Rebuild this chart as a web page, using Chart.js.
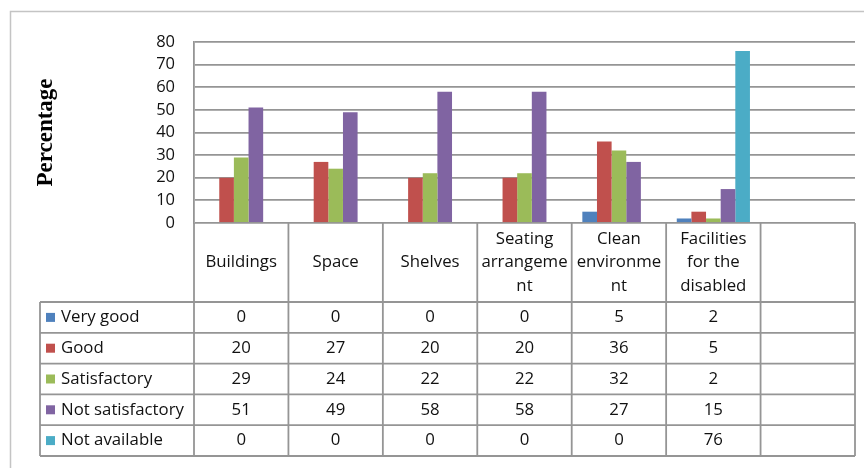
<!DOCTYPE html>
<html>
<head>
<meta charset="utf-8">
<script src="https://cdn.jsdelivr.net/npm/chart.js@4/dist/chart.umd.min.js"></script>
<style>
  html, body { margin: 0; padding: 0; background: #fff; }
  #wrap { position: relative; width: 864px; height: 468px; }
</style>
</head>
<body>
<div id="wrap"><canvas id="c"></canvas></div>
<script>
// ---- data ----
const categories = ["Buildings", "Space", "Shelves", "Seating arrangement", "Clean environment", "Facilities for the disabled", ""];
const headerLines = [["Buildings"], ["Space"], ["Shelves"], ["Seating", "arrangeme", "nt"], ["Clean", "environme", "nt"], ["Facilities", "for the", "disabled"], [""]];
const seriesNames = ["Very good", "Good", "Satisfactory", "Not satisfactory", "Not available"];
const veryGood        = [0, 0, 0, 0, 5, 2, null];
const good            = [20, 27, 20, 20, 36, 5, null];
const satisfactory    = [29, 24, 22, 22, 32, 2, null];
const notSatisfactory = [51, 49, 58, 58, 27, 15, null];
const notAvailable    = [0, 0, 0, 0, 0, 76, null];
const yTicks = [0, 10, 20, 30, 40, 50, 60, 70, 80];
const seriesColors = ["#4F81BD", "#C0504D", "#9BBB59", "#8064A2", "#4BACC6"];
const seriesValues = [veryGood, good, satisfactory, notSatisfactory, notAvailable];

const FONT = "'Open Sans', 'Liberation Sans', sans-serif";
const GRID = "#959595";

const framePlugin = {
  id: 'frame',
  beforeDraw(chart) {
    const ctx = chart.ctx;
    ctx.save();
    ctx.strokeStyle = '#c4c4c4';
    ctx.lineWidth = 1.5;
    ctx.beginPath();
    ctx.moveTo(10.5, 468);
    ctx.lineTo(10.5, 11.5);
    ctx.lineTo(864, 11.5);
    ctx.stroke();
    ctx.restore();
  }
};

const tablePlugin = {
  id: 'dataTable',
  afterDraw(chart) {
    const { ctx, chartArea, scales: { x } } = chart;
    const n = categories.length;
    const step = x.getPixelForValue(1) - x.getPixelForValue(0);
    const bounds = [];
    for (let i = 0; i <= n; i++) bounds.push(x.getPixelForValue(0) - step / 2 + i * step);
    const top = chartArea.bottom;
    const headerBottom = top + 79;
    const rowH = 30.8;
    const legendLeft = 40;
    const tableBottom = headerBottom + rowH * seriesNames.length;

    ctx.save();
    ctx.strokeStyle = GRID;
    ctx.lineWidth = 1.8;
    ctx.beginPath();
    for (const b of bounds) { ctx.moveTo(b, top); ctx.lineTo(b, tableBottom); }
    ctx.moveTo(legendLeft, headerBottom); ctx.lineTo(legendLeft, tableBottom);
    for (let r = 0; r <= seriesNames.length; r++) {
      const y = headerBottom + r * rowH;
      ctx.moveTo(legendLeft, y); ctx.lineTo(bounds[n], y);
    }
    ctx.stroke();

    ctx.fillStyle = '#111';
    ctx.font = '16.8px ' + FONT;
    ctx.textAlign = 'center';
    ctx.textBaseline = 'middle';
    const lh = 23.5;
    const hc = (top + headerBottom) / 2;
    headerLines.forEach((lines, i) => {
      const cx = (bounds[i] + bounds[i + 1]) / 2;
      const y0 = hc - (lines.length - 1) * lh / 2;
      lines.forEach((t, k) => ctx.fillText(t, cx, y0 + k * lh));
    });

    seriesNames.forEach((name, r) => {
      const cy = headerBottom + r * rowH + rowH / 2;
      ctx.fillStyle = seriesColors[r];
      ctx.fillRect(46, cy - 4.5, 9, 9);
      ctx.fillStyle = '#111';
      ctx.textAlign = 'left';
      ctx.fillText(name, 61, cy);
      ctx.textAlign = 'center';
      seriesValues[r].forEach((v, i) => {
        if (v === null) return;
        ctx.fillText(String(v), (bounds[i] + bounds[i + 1]) / 2, cy);
      });
    });
    ctx.restore();
  }
};

new Chart(document.getElementById('c'), {
  type: 'bar',
  data: {
    labels: categories,
    datasets: seriesNames.map((name, i) => ({
      label: name,
      data: seriesValues[i],
      backgroundColor: seriesColors[i],
      borderWidth: 0,
      categoryPercentage: 0.775,
      barPercentage: 1.0
    }))
  },
  options: {
    responsive: true,
    maintainAspectRatio: false,
    animation: false,
    layout: { padding: { left: 0, top: 42, right: 9, bottom: 245 } },
    plugins: { legend: { display: false }, tooltip: { enabled: false } },
    scales: {
      x: { display: false },
      y: {
        min: 0, max: 80,
        afterBuildTicks(scale) { scale.ticks = yTicks.map(v => ({ value: v })); },
        afterFit(scale) { scale.width = 194; },
        ticks: { color: '#111', font: { family: FONT, size: 16.5 }, padding: 19, autoSkip: false },
        grid: { color: GRID, lineWidth: 1.8, drawTicks: false },
        border: { color: GRID, width: 1.8 },
        title: {
          display: true, text: 'Percentage', color: '#000',
          font: { family: "'Liberation Serif', 'DejaVu Serif', serif", size: 23, weight: 'bold' },
          padding: { top: 32, bottom: 0 }
        }
      }
    }
  },
  plugins: [framePlugin, tablePlugin]
});
</script>
</body>
</html>
